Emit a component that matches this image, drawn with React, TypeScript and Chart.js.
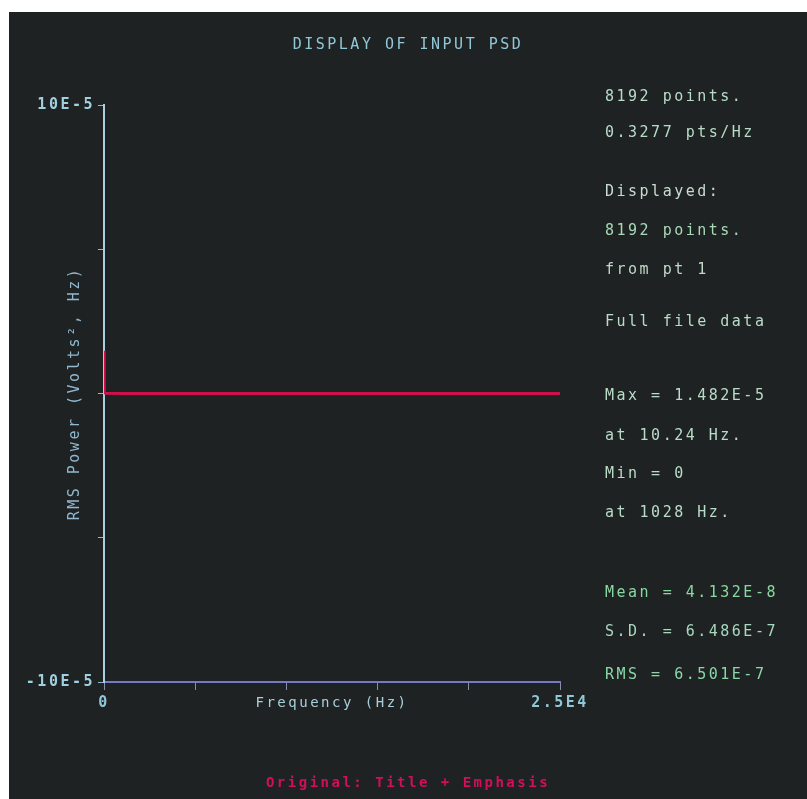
import React, { useEffect, useRef } from "react";
import { Chart, registerables } from "chart.js";

Chart.register(...registerables);

const TITLE = "DISPLAY OF INPUT PSD";
const SUBTITLE = "Original: Title + Emphasis";
const X_TITLE = "Frequency (Hz)";
const Y_TITLE = "RMS Power (Volts², Hz)";

const freqHz = [0, 3.05, 6.1, 10.24, 13.4, 30.5, 100, 1028, 5000, 10000, 15000, 20000, 25000];
const psd = [1.1e-5, 1.3e-5, 1.4e-5, 1.482e-5, 3e-6, 4e-7, 6e-8, 0, 4e-8, 4e-8, 4e-8, 4e-8, 4e-8];

const xMin = 0;
const xMax = 25000;
const xStep = 5000;
const xTickLabels = ["0", "2.5E4"];
const yMin = -1e-4;
const yMax = 1e-4;
const yStep = 5e-5;
const yTickLabels = ["-10E-5", "10E-5"];

const infoLines = [
  "8192 points.",
  "0.3277 pts/Hz",
  "Displayed:",
  "8192 points.",
  "from pt 1",
  "Full file data",
  "Max = 1.482E-5",
  "at 10.24 Hz.",
  "Min = 0",
  "at 1028 Hz.",
  "Mean = 4.132E-8",
  "S.D. = 6.486E-7",
  "RMS = 6.501E-7",
];
const infoY = [85, 121, 180, 219, 258, 310, 384, 424, 462, 501, 581, 620, 663];
const infoColors = [
  "#b8dcc8", "#b8dcc8", "#c8dcd0", "#a8d8b8", "#c0d8c8", "#b8dcc8",
  "#b8dcc8", "#b8dcc8", "#b8dcc8", "#b8dcc8", "#88d8a0", "#a8d8c0", "#88d8a8",
];

const FONT = "'DejaVu Sans Mono', monospace";

const spacingPlugin = {
  id: "spacing",
  beforeLayout(chart: any) {
    chart.ctx.letterSpacing = "2.5px";
  },
  beforeDraw(chart: any) {
    chart.ctx.letterSpacing = "2.5px";
  },
};

const infoPlugin = {
  id: "info",
  afterDraw(chart: any) {
    const ctx = chart.ctx;
    ctx.save();
    ctx.letterSpacing = "2.5px";
    ctx.font = `15px ${FONT}`;
    ctx.textBaseline = "middle";
    ctx.textAlign = "left";
    infoLines.forEach((t, i) => {
      ctx.fillStyle = infoColors[i];
      ctx.fillText(t, 596, infoY[i]);
    });
    ctx.restore();
  },
};

export default function App() {
  const ref = useRef<HTMLCanvasElement>(null);
  useEffect(() => {
    if (!ref.current) return;
    const chart = new Chart(ref.current, {
      type: "line",
      data: {
        datasets: [
          {
            data: freqHz.map((f, i) => ({ x: f, y: psd[i] })),
            borderColor: "#d0104c",
            borderWidth: 3,
            pointRadius: 0,
            tension: 0,
          },
        ],
      },
      options: {
        animation: false,
        responsive: false,
        maintainAspectRatio: false,
        layout: { padding: { left: 0, right: 0, top: 0, bottom: 0 } },
        plugins: {
          legend: { display: false },
          tooltip: { enabled: false },
          title: {
            display: true,
            text: TITLE,
            color: "#90c8d8",
            font: { family: FONT, size: 15, weight: "normal" },
            padding: { top: 24, bottom: 51 },
          },
          subtitle: {
            display: true,
            position: "bottom",
            text: SUBTITLE,
            color: "#d0105a",
            font: { family: FONT, size: 14, weight: "bold" },
            padding: { top: 50.6, bottom: 7.6 },
          },
        },
        scales: {
          x: {
            type: "linear",
            min: xMin,
            max: xMax,
            afterFit: (s: any) => {
              s.height = 42;
            },
            border: { display: true, color: "#7878c8", width: 2 },
            grid: {
              display: true,
              drawOnChartArea: false,
              drawTicks: true,
              tickLength: 8,
              color: "#8890a8",
            },
            ticks: {
              stepSize: xStep,
              maxRotation: 0,
              autoSkip: false,
              color: "#90c8d8",
              font: { family: FONT, size: 15, weight: "bold" },
              padding: 4,
              callback: (v: any) =>
                v === xMin ? xTickLabels[0] : v === xMax ? xTickLabels[1] : "",
            },
            title: {
              display: true,
              text: X_TITLE,
              color: "#a8d0dc",
              font: { family: FONT, size: 14 },
              padding: { top: 0, bottom: 12.6 },
            },
          },
          y: {
            min: yMin,
            max: yMax,
            afterFit: (s: any) => {
              s.width = 95;
            },
            border: { display: true, color: "#a8d0e0", width: 2 },
            grid: {
              display: true,
              drawOnChartArea: false,
              drawTicks: true,
              tickLength: 6,
              color: "#90b8c8",
            },
            ticks: {
              stepSize: yStep,
              autoSkip: false,
              color: "#a0d0e0",
              font: { family: FONT, size: 15, weight: "bold" },
              padding: 3,
              callback: (v: any) =>
                Math.abs(v - yMin) < 1e-12
                  ? yTickLabels[0]
                  : Math.abs(v - yMax) < 1e-12
                  ? yTickLabels[1]
                  : "",
            },
            title: {
              display: true,
              text: Y_TITLE,
              color: "#90b8d0",
              font: { family: FONT, size: 15 },
              padding: { top: 57, bottom: 0 },
            },
          },
          side: {
            type: "linear",
            position: "right",
            display: true,
            afterFit: (s: any) => {
              s.width = 247;
            },
            border: { display: false },
            grid: { display: false, drawTicks: false },
            ticks: { display: false },
          },
        },
      },
      plugins: [spacingPlugin, infoPlugin],
    } as any);
    return () => chart.destroy();
  }, []);

  return (
    <div
      style={{
        position: "absolute",
        left: 9,
        top: 12,
        width: 798,
        height: 787,
        background: "#1f2222",
      }}
    >
      <canvas ref={ref} width={798} height={787} style={{ display: "block" }} />
    </div>
  );
}
